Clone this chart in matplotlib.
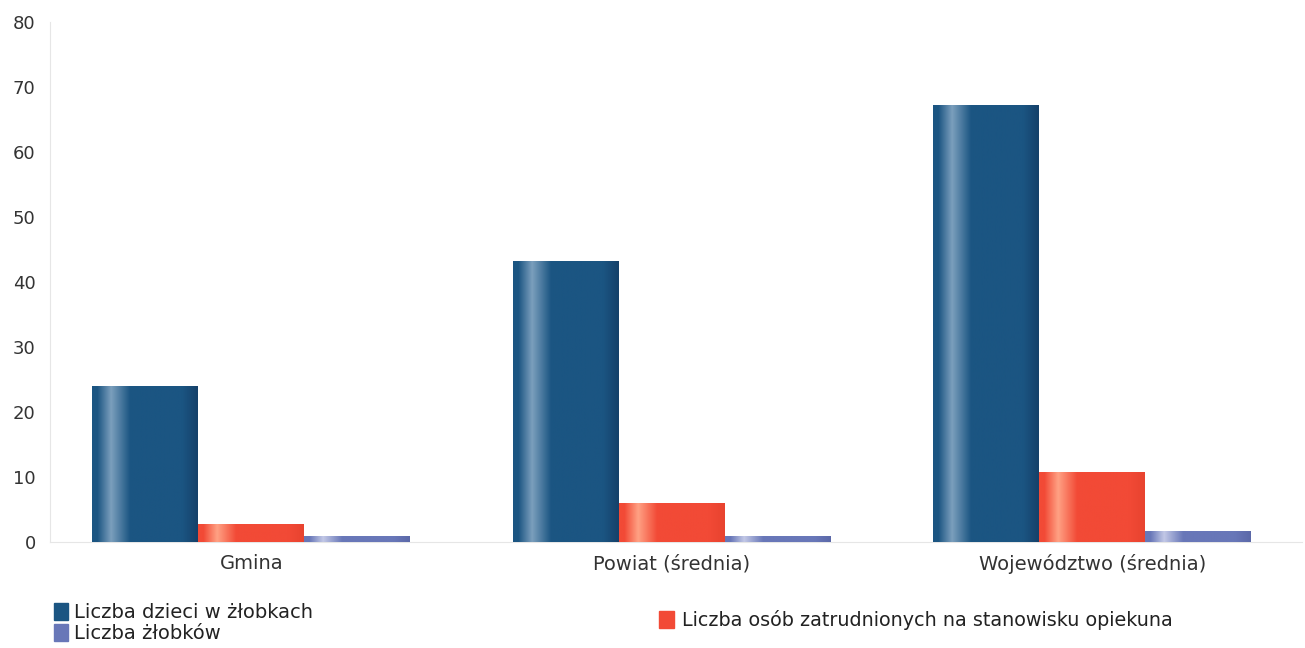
import numpy as np
import matplotlib.pyplot as plt
from matplotlib.colors import LinearSegmentedColormap
from matplotlib.patches import Patch

plt.rcParams['font.family'] = ['DejaVu Sans']

categories = ["Gmina", "Powiat (średnia)", "Województwo (średnia)"]
dzieci = [24.0, 43.2, 67.3]
opiekunowie = [2.8, 6.0, 10.8]
zlobki = [0.9, 0.9, 1.7]
series_names = ["Liczba dzieci w żłobkach",
                "Liczba osób zatrudnionych na stanowisku opiekuna",
                "Liczba żłobków"]

# base, highlight, dark edge
palettes = [
    ("#1b5582", "#7b9fbd", "#15416a"),
    ("#f24a36", "#ffa184", "#e8432f"),
    ("#6877b8", "#c2c8e6", "#5b68a8"),
]

fig = plt.figure(figsize=(13.05, 6.48), dpi=100)
ax = fig.add_axes([0.038, 0.1636, 0.96, 0.8025])

x = np.arange(len(categories))
w = 0.252
grad = np.linspace(0, 1, 256).reshape(1, -1)

for i, vals in enumerate([dzieci, opiekunowie, zlobki]):
    base, hi, dark = palettes[i]
    cmap = LinearSegmentedColormap.from_list(
        "c%d" % i, [(0, base), (0.05, base), (0.18, hi), (0.36, base), (0.85, base), (1, dark)])
    bars = ax.bar(x + (i - 1) * w, vals, width=w, color=base, edgecolor="none", zorder=2)
    for b in bars:
        im = ax.imshow(grad, cmap=cmap, aspect="auto", zorder=3,
                       extent=[b.get_x(), b.get_x() + b.get_width(), 0, b.get_height()])
        im.set_clip_path(b)

ax.set_xlim(-0.48, 2.5)
ax.set_ylim(0, 80)
ax.set_yticks(range(0, 81, 10))
ax.set_xticks(x)
ax.set_xticklabels(categories, fontsize=14, color="#333333")
ax.tick_params(axis="y", length=0, pad=10, labelsize=13, labelcolor="#333333")
ax.tick_params(axis="x", length=0, pad=9)
for s in ["top", "right"]:
    ax.spines[s].set_visible(False)
ax.spines["left"].set_color("#e6e6e6")
ax.spines["bottom"].set_color("#e6e6e6")

h1 = [Patch(color=palettes[0][0]), Patch(color=palettes[2][0])]
leg1 = fig.legend(h1, [series_names[0], series_names[2]], loc="center left",
                  bbox_to_anchor=(0.041, 1 - 623 / 648), frameon=False, fontsize=14,
                  handlelength=0.75, handleheight=1.0, handletextpad=0.3,
                  labelspacing=0.1, borderpad=0, borderaxespad=0)
leg2 = fig.legend([Patch(color=palettes[1][0])], [series_names[1]], loc="center left",
                  bbox_to_anchor=(0.505, 1 - 620 / 648), frameon=False, fontsize=13.8,
                  handlelength=0.8, handleheight=1.0, handletextpad=0.4,
                  borderpad=0, borderaxespad=0)
for t in leg1.get_texts() + leg2.get_texts():
    t.set_color("#222222")

fig.savefig("out.png", dpi=100)
